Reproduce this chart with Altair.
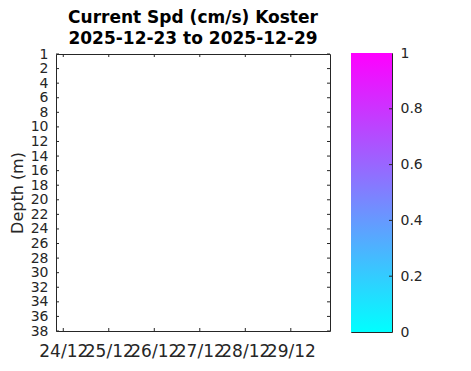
import altair as alt
import pandas as pd

# ---- data ----
title_lines = ["Current Spd (cm/s) Koster", "2025-12-23 to 2025-12-29"]
y_title = "Depth (m)"
date_ticks = ["2025-12-24", "2025-12-25", "2025-12-26", "2025-12-27", "2025-12-28", "2025-12-29"]
date_labels = ["24/12", "25/12", "26/12", "27/12", "28/12", "29/12"]
time_start = "2025-12-23 20:10"
time_end = "2025-12-29 20:40"
depth_positions = [0, 2, 4, 6, 8, 10, 12, 14, 16, 18, 20, 22, 24, 26, 28, 30, 32, 34, 36, 38]
depth_labels = ["1", "2", "4", "6", "8", "10", "12", "14", "16", "18", "20", "22", "24",
                "26", "28", "30", "32", "34", "36", "38"]
depth_domain = [0, 38]
cbar_ticks = [0, 0.2, 0.4, 0.6, 0.8, 1]
cbar_labels = ["0", "0.2", "0.4", "0.6", "0.8", "1"]
cbar_domain = [0, 1]
cbar_colors = ["#00ffff", "#ff00ff"]

# ---- styling ----
W, H = 274, 277
CW, CH = 41, 279
TL = 3
ink = "#262626"
FONT = "DejaVu Sans"


def dt(s):
    t = pd.Timestamp(s)
    return alt.DateTime(year=t.year, month=t.month, date=t.day, hours=t.hour,
                        minutes=t.minute, utc=True)


tick_ms = [int(pd.Timestamp(d, tz="UTC").value // 10**6) for d in date_ticks]
x_label_expr = "[%s][indexof([%s], +datum.value)]" % (
    ",".join("'%s'" % l for l in date_labels), ",".join(str(v) for v in tick_ms))
y_label_expr = "[%s][indexof([%s], datum.value)]" % (
    ",".join("'%s'" % l for l in depth_labels), ",".join(str(v) for v in depth_positions))
c_label_expr = "[%s][indexof([%s], datum.value)]" % (
    ",".join("'%s'" % l for l in cbar_labels), ",".join(str(v) for v in cbar_ticks))

xscale = alt.Scale(type="utc", domain=[dt(time_start), dt(time_end)], nice=False)
yscale = alt.Scale(domain=depth_domain, reverse=True, nice=False, zero=False)

x_axis = alt.Axis(values=[dt(d) for d in date_ticks], labelExpr=x_label_expr, title=None,
                  ticks=False, domain=False, grid=False, labelPadding=12, labelFontSize=17,
                  labelFont=FONT, labelColor=ink, labelOverlap=False, labelFlush=False,
                  labelBound=False)
y_axis = alt.Axis(values=depth_positions, labelExpr=y_label_expr, title=y_title,
                  ticks=False, domain=False, grid=False, labelPadding=8, labelFontSize=14,
                  labelFont=FONT, titleFont=FONT,
                  labelColor=ink, titleColor=ink, titleFontSize=16, titleFontWeight="normal",
                  titlePadding=5, labelOverlap=False, labelFlush=False, labelBound=False)
c_axis = alt.Axis(values=cbar_ticks, labelExpr=c_label_expr, title=None, orient="right",
                  ticks=False, domain=False, grid=False, labelPadding=8, labelFontSize=14,
                  labelFont=FONT, labelColor=ink, labelOverlap=False, labelFlush=False,
                  labelBound=False)

xdf = pd.DataFrame({"date": date_ticks})
ydf = pd.DataFrame({"depth": depth_positions})

xb = alt.Chart(xdf).mark_rule(color=ink, strokeWidth=1).encode(
    x=alt.X("date:T", scale=xscale, axis=x_axis), y=alt.value(H), y2=alt.value(H - TL))
xt = alt.Chart(xdf).mark_rule(color=ink, strokeWidth=1).encode(
    x=alt.X("date:T", scale=xscale, axis=x_axis), y=alt.value(0), y2=alt.value(TL))
yl = alt.Chart(ydf).mark_rule(color=ink, strokeWidth=1).encode(
    y=alt.Y("depth:Q", scale=yscale, axis=y_axis), x=alt.value(0), x2=alt.value(TL))
yr = alt.Chart(ydf).mark_rule(color=ink, strokeWidth=1).encode(
    y=alt.Y("depth:Q", scale=yscale, axis=y_axis), x=alt.value(W), x2=alt.value(W - TL))

main = alt.layer(xb, xt, yl, yr).properties(
    width=W, height=H,
    title=alt.TitleParams(text=title_lines, fontSize=17, fontWeight="bold", font=FONT,
                          color="black", anchor="middle", offset=-1, lineHeight=21))

cscale = alt.Scale(domain=cbar_domain, nice=False, zero=False)
cdf = pd.DataFrame({"lo": [cbar_domain[0]], "hi": [cbar_domain[1]]})
ctdf = pd.DataFrame({"v": cbar_ticks[1:-1]})
grad = alt.Gradient(gradient="linear",
                    stops=[alt.GradientStop(color=cbar_colors[0], offset=0),
                           alt.GradientStop(color=cbar_colors[1], offset=1)],
                    x1=0, x2=0, y1=1, y2=0)
crect = alt.Chart(cdf).mark_rect(color=grad).encode(
    y=alt.Y("lo:Q", scale=cscale, axis=c_axis), y2="hi:Q", x=alt.value(0), x2=alt.value(CW))
cticks = alt.Chart(ctdf).mark_rule(color=ink, strokeWidth=1).encode(
    y=alt.Y("v:Q", scale=cscale, axis=c_axis), x=alt.value(CW), x2=alt.value(CW - TL))
cbar = alt.layer(crect, cticks).properties(width=CW, height=CH)

chart = alt.hconcat(main, cbar, spacing=21, bounds="flush", center=True).properties(
    padding={"left": 0, "top": 0, "right": 5, "bottom": 5}, background="white"
).configure_view(stroke=ink, strokeWidth=1)

chart.save("out.html", embed_options={"renderer": "svg", "actions": False})
